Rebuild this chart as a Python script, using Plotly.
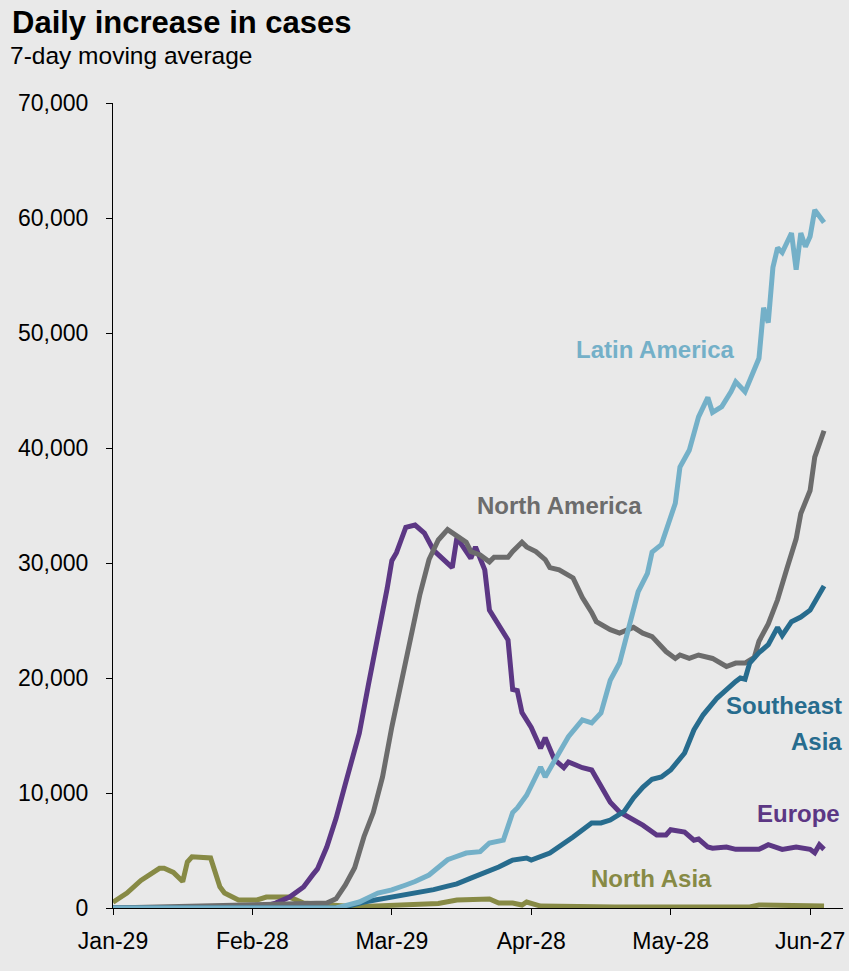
import pandas as pd
import plotly.graph_objects as go

START = pd.Timestamp("2020-01-29")

tick_days = [0, 30, 60, 90, 120, 150]
tick_labels = ["Jan-29", "Feb-28", "Mar-29", "Apr-28", "May-28", "Jun-27"]
y_ticks = [0, 10000, 20000, 30000, 40000, 50000, 60000, 70000]

north_asia_days = [0, 3, 6, 10, 11, 13, 15, 16, 17, 19, 21, 23, 24, 27, 31, 33, 38, 41, 47, 52, 58, 62, 70, 74, 81, 83, 86, 88, 89, 92, 100, 108, 137, 139, 153]
north_asia_vals = [500, 1300, 2400, 3450, 3450, 3100, 2300, 4000, 4450, 4350, 4350, 1850, 1300, 700, 700, 950, 950, 430, 260, 100, 200, 260, 400, 700, 780, 430, 430, 260, 520, 170, 120, 90, 90, 260, 170]

europe_days = [0, 30, 33, 35, 38, 41, 43, 44, 46, 48, 50, 52, 53, 55, 57, 59, 60, 61, 62, 63, 65, 66, 67, 69, 71, 73, 74, 75, 77, 78, 80, 81, 84, 85, 86, 87, 88, 90, 92, 93, 95, 97, 98, 101, 103, 105, 107, 109, 114, 117, 119, 120, 123, 125, 126, 128, 129, 132, 134, 139, 141, 144, 147, 150, 151, 152, 153]
europe_vals = [0, 0, 200, 430, 950, 1830, 2900, 3400, 5300, 7800, 10800, 13900, 15200, 19500, 23500, 27800, 30200, 30900, 32000, 33100, 33300, 32900, 32600, 31100, 30300, 29600, 32200, 31600, 30400, 31400, 29400, 25900, 24000, 23300, 19000, 18900, 17000, 15700, 13900, 14800, 12900, 12200, 12700, 12200, 12000, 10500, 9200, 8350, 7200, 6350, 6350, 6800, 6600, 5900, 6000, 5300, 5200, 5300, 5100, 5100, 5500, 5100, 5300, 5100, 4800, 5500, 5100]

north_america_days = [0, 44, 46, 48, 50, 52, 54, 56, 58, 60, 62, 64, 66, 68, 70, 72, 74, 76, 77, 79, 81, 82, 85, 86, 88, 89, 91, 93, 94, 96, 99, 101, 103, 104, 107, 109, 112, 114, 116, 118, 119, 121, 122, 124, 126, 129, 132, 134, 136, 138, 139, 141, 143, 145, 147, 148, 150, 151, 153]
north_america_vals = [0, 350, 430, 800, 2000, 3500, 6200, 8300, 11400, 15750, 19500, 23300, 27200, 30300, 32000, 32900, 32400, 31800, 31000, 30700, 30100, 30500, 30500, 31000, 31800, 31400, 31000, 30300, 29600, 29400, 28700, 27000, 25700, 24900, 24200, 23900, 24400, 23900, 23600, 22700, 22300, 21700, 22000, 21700, 22000, 21700, 21000, 21300, 21300, 21800, 23200, 24700, 26800, 29500, 32100, 34300, 36300, 39200, 41500]

latin_america_days = [0, 48, 50, 53, 57, 60, 63, 65, 68, 70, 72, 73, 76, 79, 81, 84, 86, 87, 89, 92, 93, 96, 98, 101, 103, 105, 107, 109, 111, 113, 115, 116, 118, 121, 122, 124, 126, 128, 129, 131, 133, 134, 136, 139, 140, 141, 142, 143, 144, 146, 147, 148, 149, 150, 151, 153]
latin_america_vals = [0, 0, 200, 520, 1300, 1570, 2000, 2300, 2870, 3500, 4200, 4350, 4780, 4900, 5650, 5900, 8300, 8700, 9800, 12260, 11400, 13500, 14900, 16350, 16100, 16950, 19800, 21300, 24200, 27500, 29100, 30950, 31600, 35200, 38350, 39800, 42700, 44400, 43100, 43600, 44900, 45750, 44900, 47800, 52200, 50900, 55700, 57400, 57000, 58700, 55500, 58700, 57500, 58400, 60700, 59600]

southeast_asia_days = [0, 49, 54, 59, 63, 66, 69, 72, 74, 77, 79, 83, 86, 89, 90, 94, 99, 103, 105, 107, 110, 112, 114, 116, 118, 120, 123, 125, 127, 130, 134, 135, 136, 137, 139, 141, 143, 144, 146, 148, 150, 152, 153]
southeast_asia_vals = [0, 0, 520, 870, 1130, 1300, 1600, 1900, 2100, 2600, 2900, 3570, 4170, 4350, 4170, 4780, 6170, 7400, 7400, 7650, 8400, 9570, 10500, 11200, 11400, 12000, 13480, 15480, 16800, 18260, 19700, 20000, 19900, 21300, 22200, 22900, 24400, 23700, 24900, 25300, 25900, 27400, 28000]

series = [
    ("North Asia", north_asia_days, north_asia_vals, "#878A45"),
    ("Europe", europe_days, europe_vals, "#5C3784"),
    ("North America", north_america_days, north_america_vals, "#6C6C6C"),
    ("Southeast Asia", southeast_asia_days, southeast_asia_vals, "#276C8E"),
    ("Latin America", latin_america_days, latin_america_vals, "#74B0C8"),
]


def to_dates(days):
    return [START + pd.Timedelta(days=d) for d in days]


fig = go.Figure()
for name, days, vals, color in series:
    fig.add_trace(go.Scatter(
        x=to_dates(days), y=vals, mode="lines", name=name,
        line=dict(color=color, width=5), showlegend=False,
    ))

W, H = 849, 971
L, R, T, B = 113, 4, 103, 63
PW = W - L - R
PH = H - T - B
PX_PER_DAY = (812 - 113) / 150.0
x_end_days = PW / PX_PER_DAY


def px(x):
    return (x - L) / PW


def py(y):
    return (H - B - y) / PH


FONT = "Liberation Sans, Arial, sans-serif"
BG = "#E9E9E9"

fig.update_layout(
    width=W, height=H,
    margin=dict(l=L, r=R, t=T, b=B, pad=0),
    paper_bgcolor=BG, plot_bgcolor=BG,
    font=dict(family=FONT, size=23, color="#000000"),
    xaxis=dict(
        type="date",
        range=[START, START + pd.Timedelta(days=x_end_days)],
        tickvals=to_dates(tick_days), ticktext=tick_labels,
        showgrid=False, zeroline=False,
        showline=True, linecolor="#000000", linewidth=1,
        ticks="outside", ticklen=6, tickcolor="#000000", tickwidth=1,
        ticklabelstandoff=6,
        tickfont=dict(family=FONT, size=23, color="#000000"),
    ),
    yaxis=dict(
        range=[0, 70000],
        tickvals=y_ticks, tickformat=",d",
        showgrid=False, zeroline=False,
        showline=True, linecolor="#000000", linewidth=1,
        ticks="outside", ticklen=6, tickcolor="#000000", tickwidth=1,
        ticklabelstandoff=13,
        tickfont=dict(family=FONT, size=23, color="#000000"),
    ),
)

annotations = [
    dict(text="<b>Daily increase in cases</b>", x=px(10), y=py(22), xanchor="left", yanchor="middle",
         font=dict(family=FONT, size=31, color="#000000")),
    dict(text="7-day moving average", x=px(8), y=py(56), xanchor="left", yanchor="middle",
         font=dict(family=FONT, size=24.5, color="#000000")),
    dict(text="<b>Latin America</b>", x=px(656), y=py(349), xanchor="center", yanchor="middle",
         font=dict(family=FONT, size=24, color="#74B0C8")),
    dict(text="<b>North America</b>", x=px(561), y=py(505), xanchor="center", yanchor="middle",
         font=dict(family=FONT, size=24, color="#6C6C6C")),
    dict(text="<b>Southeast</b>", x=px(846), y=py(706), xanchor="right", yanchor="middle",
         font=dict(family=FONT, size=24, color="#276C8E")),
    dict(text="<b>Asia</b>", x=px(846), y=py(741), xanchor="right", yanchor="middle",
         font=dict(family=FONT, size=24, color="#276C8E")),
    dict(text="<b>Europe</b>", x=px(844), y=py(813), xanchor="right", yanchor="middle",
         font=dict(family=FONT, size=24, color="#5C3784")),
    dict(text="<b>North Asia</b>", x=px(653), y=py(878), xanchor="center", yanchor="middle",
         font=dict(family=FONT, size=24, color="#878A45")),
]
for a in annotations:
    a.update(xref="paper", yref="paper", showarrow=False)
fig.update_layout(annotations=annotations)

fig.write_html("out.html")
